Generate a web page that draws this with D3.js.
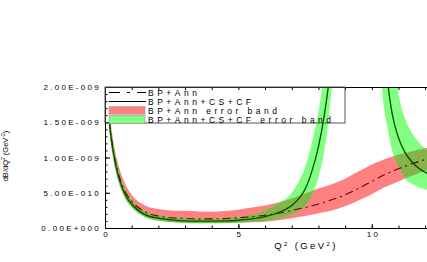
<!DOCTYPE html>
<html>
<head>
<meta charset="utf-8">
<script src="https://cdn.jsdelivr.net/npm/d3@7"></script>
<style>
  body { margin: 0; background: #fff; }
  text { font-family: "Liberation Sans", Arial, sans-serif; fill: #000; }
</style>
</head>
<body>
<div id="chart-area"></div>
<script>
// values in units of 1e-9 GeV^-2

// BP+Ann (dash-dot) and its error band
var q2Ann   = [0.16, 0.2, 0.3, 0.5, 0.75, 1, 1.5, 2, 2.5, 3, 3.5, 4, 4.5, 5, 5.5, 6, 6.5, 7, 7.5, 8, 8.5, 9, 9.5, 10, 10.5, 11, 11.5, 12, 12.1];
var annMid  = [1.52, 1.39, 1.13, 0.78, 0.52, 0.38, 0.23, 0.17, 0.145, 0.135, 0.13, 0.13, 0.135, 0.145, 0.16, 0.18, 0.21, 0.25, 0.29, 0.34, 0.40, 0.47, 0.56, 0.66, 0.76, 0.84, 0.91, 0.97, 0.98];
var annHigh = [1.62, 1.52, 1.26, 0.90, 0.63, 0.47, 0.32, 0.27, 0.25, 0.245, 0.235, 0.23, 0.24, 0.26, 0.29, 0.32, 0.36, 0.42, 0.49, 0.56, 0.62, 0.70, 0.80, 0.90, 0.98, 1.04, 1.09, 1.13, 1.14];
var annLow  = [1.42, 1.27, 1.01, 0.67, 0.43, 0.30, 0.16, 0.11, 0.085, 0.075, 0.07, 0.07, 0.072, 0.075, 0.08, 0.09, 0.11, 0.14, 0.17, 0.21, 0.25, 0.31, 0.39, 0.48, 0.58, 0.66, 0.74, 0.81, 0.82];

// BP+Ann+CS+CF (solid), left branch below the pole
var q2Left    = [0.16, 0.2, 0.3, 0.5, 0.75, 1, 1.5, 2, 2.5, 3, 3.5, 4, 4.5, 5, 5.5, 6, 6.5, 7, 7.25, 7.5, 7.75, 8, 8.2, 8.4, 8.6];
var fullMidL  = [1.50, 1.36, 1.10, 0.74, 0.48, 0.34, 0.19, 0.14, 0.115, 0.10, 0.097, 0.097, 0.10, 0.11, 0.13, 0.16, 0.22, 0.32, 0.41, 0.55, 0.80, 1.15, 1.55, 2.1, 2.9];
var fullHighL = [1.58, 1.47, 1.20, 0.82, 0.55, 0.40, 0.24, 0.18, 0.155, 0.14, 0.135, 0.135, 0.14, 0.16, 0.19, 0.25, 0.35, 0.50, 0.65, 0.86, 1.20, 1.65, 2.15, 3.0, 3.6];
var fullLowL  = [1.42, 1.26, 1.00, 0.66, 0.42, 0.29, 0.15, 0.10, 0.08, 0.068, 0.065, 0.065, 0.068, 0.075, 0.085, 0.10, 0.13, 0.19, 0.24, 0.31, 0.45, 0.72, 1.05, 1.6, 2.5];

// right branch above the pole
var q2Right   = [10.3, 10.4, 10.5, 10.6, 10.75, 11, 11.25, 11.5, 11.75, 12, 12.1];
var fullMidR  = [3.6, 3.0, 2.4, 2.05, 1.65, 1.28, 1.07, 0.94, 0.85, 0.79, 0.77];
var fullHighR = [4.2, 4.0, 3.6, 3.2, 2.6, 1.9, 1.55, 1.35, 1.22, 1.12, 1.09];
var fullLowR  = [2.4, 1.9, 1.6, 1.4, 1.12, 0.88, 0.70, 0.63, 0.58, 0.55, 0.54];

var yTicks = [0, 0.5, 1, 1.5, 2];
var yTickLabels = ["0.00E+000", "5.00E-010", "1.00E-009", "1.50E-009", "2.00E-009"];
var xTicks = [0, 5, 10];
var legendLabels = ["BP+Ann", "BP+Ann+CS+CF", "BP+Ann error band", "BP+Ann+CS+CF error band"];

var margin = {left: 105, top: 87};
var width = 322, height = 141;

var svg = d3.select("#chart-area")
    .append("svg")
        .attr("width", 427)
        .attr("height", 262);
var g = svg.append("g")
    .attr("transform", "translate(" + margin.left + "," + margin.top + ")");

var x = d3.scaleLinear().domain([0, 12.07]).range([0, width]);
var y = d3.scaleLinear().domain([0, 2]).range([height, 0]);

function rows(qs, mid, hi, lo) {
    return qs.map(function(q, i) { return {q: q, mid: mid[i], hi: hi[i], lo: lo[i]}; });
}
var ann = rows(q2Ann, annMid, annHigh, annLow);
var fullL = rows(q2Left, fullMidL, fullHighL, fullLowL);
var fullR = rows(q2Right, fullMidR, fullHighR, fullLowR);

var area = d3.area()
    .x(function(d) { return x(d.q); })
    .y0(function(d) { return y(d.lo); })
    .y1(function(d) { return y(d.hi); })
    .curve(d3.curveMonotoneX);
var line = d3.line()
    .x(function(d) { return x(d.q); })
    .y(function(d) { return y(d.mid); })
    .curve(d3.curveMonotoneX);

var defs = svg.append("defs");
defs.append("clipPath").attr("id", "plotClip")
    .append("rect").attr("width", width + 2).attr("height", height);
var gc = defs.append("clipPath").attr("id", "greenClip");
gc.append("path").attr("d", area(fullL));
gc.append("path").attr("d", area(fullR));

var plot = g.append("g").attr("clip-path", "url(#plotClip)");

// bands
plot.append("path").attr("d", area(ann)).attr("fill", "#ff8080");
plot.append("path").attr("d", area(fullL)).attr("fill", "#80ff80");
plot.append("path").attr("d", area(fullR)).attr("fill", "#80ff80");
// where the two bands overlap
plot.append("g").attr("clip-path", "url(#greenClip)")
    .append("path").attr("d", area(ann)).attr("fill", "#84b44a");

// central lines
plot.append("path").attr("d", line(ann))
    .attr("fill", "none").attr("stroke", "#700000").attr("stroke-width", 1.1)
    .attr("stroke-dasharray", "8,4,2,4");
plot.append("path").attr("d", line(fullL))
    .attr("fill", "none").attr("stroke", "#005000").attr("stroke-width", 1.3);
plot.append("path").attr("d", line(fullR))
    .attr("fill", "none").attr("stroke", "#005000").attr("stroke-width", 1.3);

// axes, ticks pointing inwards
var tickStyle = function(sel) {
    sel.selectAll("path.domain").attr("stroke", "#000");
    sel.selectAll(".tick line").attr("stroke", "#000");
};
g.append("g")
    .call(d3.axisLeft(y).tickValues(d3.range(0, 2.001, 0.1)).tickSize(-2.5).tickSizeOuter(0).tickFormat(""))
    .call(tickStyle);
g.append("g")
    .call(d3.axisLeft(y).tickValues(yTicks).tickSize(-5).tickSizeOuter(0).tickPadding(4)
        .tickFormat(function(d, i) { return yTickLabels[i]; }))
    .call(tickStyle)
    .selectAll("text")
        .attr("font-size", "8px")
        .attr("letter-spacing", "2.3px");

g.append("g")
    .attr("transform", "translate(0," + height + ")")
    .call(d3.axisBottom(x).tickValues(d3.range(0, 13, 1)).tickSize(-2.5).tickSizeOuter(0).tickFormat(""))
    .call(tickStyle);
g.append("g")
    .attr("transform", "translate(0," + height + ")")
    .call(d3.axisBottom(x).tickValues(xTicks).tickSize(-4).tickSizeOuter(0).tickPadding(3))
    .call(tickStyle)
    .selectAll("text")
        .attr("font-size", "8px")
        .attr("letter-spacing", "2.3px")
        .attr("dx", "1.1px");

g.append("g")
    .call(d3.axisTop(x).tickValues(d3.range(0, 13, 1)).tickSize(-3).tickSizeOuter(0).tickFormat(""))
    .call(tickStyle);

// axis titles
var yt = svg.append("text")
    .attr("transform", "translate(8,156) rotate(-90)")
    .attr("text-anchor", "middle")
    .attr("font-size", "7.5px");
yt.append("tspan").text("dB/dQ");
yt.append("tspan").attr("baseline-shift", "super").attr("font-size", "5px").text("2");
yt.append("tspan").text(" (GeV");
yt.append("tspan").attr("baseline-shift", "super").attr("font-size", "5px").text("-2");
yt.append("tspan").text(")");

var xt = svg.append("text")
    .attr("x", 306)
    .attr("y", 249)
    .attr("text-anchor", "middle")
    .attr("font-size", "9.5px")
    .attr("letter-spacing", "2.4px");
xt.append("tspan").text("Q");
xt.append("tspan").attr("baseline-shift", "super").attr("font-size", "6px").text("2");
xt.append("tspan").text(" (GeV");
xt.append("tspan").attr("baseline-shift", "super").attr("font-size", "6px").text("2");
xt.append("tspan").text(")");

// legend
var legend = g.append("g");
legend.append("rect")
    .attr("x", 0).attr("y", 0)
    .attr("width", 240).attr("height", 36)
    .attr("fill", "none").attr("stroke", "#555").attr("stroke-width", 1);

var rowY = [5.5, 14.5, 23.5, 32.5];
legend.append("line")
    .attr("x1", 4).attr("x2", 41).attr("y1", rowY[0]).attr("y2", rowY[0])
    .attr("stroke", "#000").attr("stroke-dasharray", "11,7,3,7");
legend.append("line")
    .attr("x1", 4).attr("x2", 41).attr("y1", rowY[1]).attr("y2", rowY[1])
    .attr("stroke", "#000");
legend.append("rect")
    .attr("x", 4).attr("y", rowY[2] - 3.8).attr("width", 36).attr("height", 7.5)
    .attr("fill", "#ff8080").attr("stroke", "#999").attr("stroke-width", 0.6);
legend.append("rect")
    .attr("x", 4).attr("y", rowY[3] - 4).attr("width", 36).attr("height", 8)
    .attr("fill", "#80ff80").attr("stroke", "#999").attr("stroke-width", 0.6);

legend.selectAll("text.lab")
    .data(legendLabels)
    .enter().append("text")
        .attr("class", "lab")
        .attr("x", 43)
        .attr("y", function(d, i) { return rowY[i] + 3.1; })
        .attr("font-size", "8.5px")
        .attr("letter-spacing", "3.5px")
        .text(function(d) { return d; });
</script>
</body>
</html>
